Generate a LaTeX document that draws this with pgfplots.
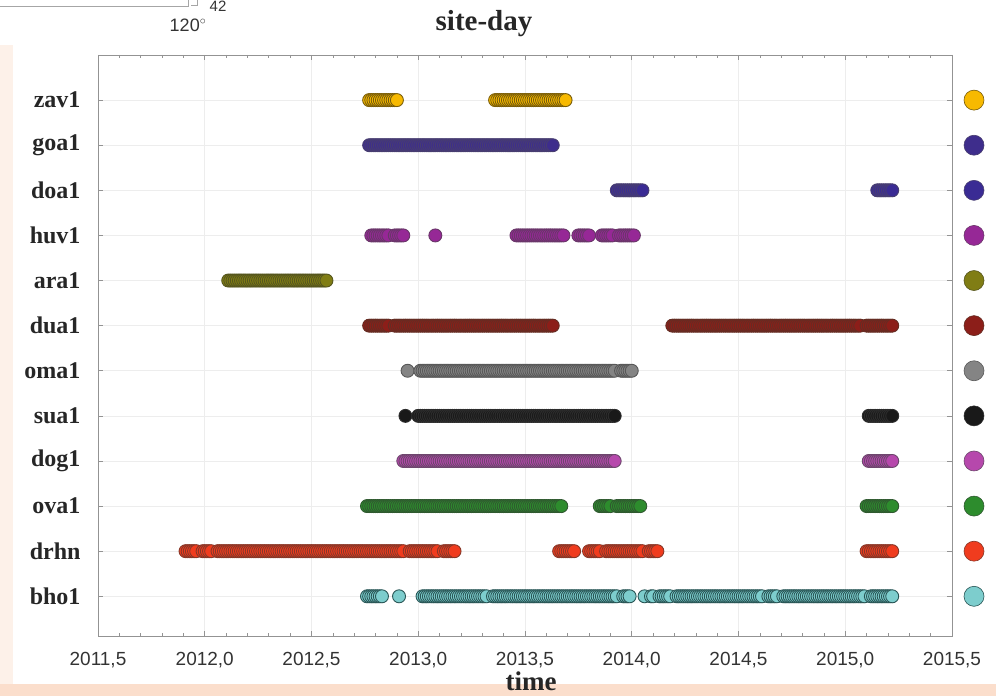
\documentclass[border=0pt]{standalone}
\usepackage{fontspec}
\setmainfont{Liberation Serif}
\newfontfamily\sansf{Liberation Sans}
\usepackage{pgfplots}
\pgfplotsset{compat=1.18}
\definecolor{zavF}{RGB}{247,185,0}\definecolor{zavE}{RGB}{120,92,10}
\definecolor{goaF}{RGB}{62,45,140}\definecolor{goaE}{RGB}{72,62,112}
\definecolor{doaF}{RGB}{58,43,148}\definecolor{doaE}{RGB}{72,62,112}
\definecolor{huvF}{RGB}{150,40,150}\definecolor{huvE}{RGB}{105,55,105}
\definecolor{araF}{RGB}{128,125,20}\definecolor{araE}{RGB}{85,85,30}
\definecolor{duaF}{RGB}{140,30,25}\definecolor{duaE}{RGB}{100,45,35}
\definecolor{omaF}{RGB}{132,132,132}\definecolor{omaE}{RGB}{88,88,88}
\definecolor{suaF}{RGB}{25,25,25}\definecolor{suaE}{RGB}{45,45,45}
\definecolor{dogF}{RGB}{182,72,172}\definecolor{dogE}{RGB}{108,70,108}
\definecolor{ovaF}{RGB}{45,140,45}\definecolor{ovaE}{RGB}{48,88,48}
\definecolor{drhF}{RGB}{240,60,30}\definecolor{drhE}{RGB}{135,55,40}
\definecolor{bhoF}{RGB}{125,205,205}\definecolor{bhoE}{RGB}{42,86,86}
\definecolor{peachA}{RGB}{253,241,233}
\definecolor{peachB}{RGB}{251,222,204}
\pgfplotsset{site/.style={only marks, mark=*, mark size=6.5pt, line width=0.9pt}}
\pgfplotsset{leg/.style={only marks, mark=*, mark size=10pt, line width=0.6pt}}
\begin{document}
\begin{tikzpicture}[x=1pt,y=1pt]
\useasboundingbox (0,0) rectangle (996,696);
\fill[peachA] (0,0) rectangle (13,651);
\fill[peachB] (0,0) rectangle (996,12);
% artefact of neighbouring figure
\draw[gray!70, line width=0.7pt] (0,690) -- (188,690) -- (188,696);
\draw[gray!70, line width=0.7pt] (191,691) -- (197,691) -- (197,696);
\node[font=\sansf\fontsize{15}{15}\selectfont, text=black!80, anchor=north, inner sep=0pt] at (218,695) {42};
\node[font=\sansf\fontsize{18}{18}\selectfont, text=black!80] at (188,671) {120$^{\circ}$};
\node[font=\fontsize{29}{29}\selectfont\bfseries, text=black!85] at (484,672) {site-day};
\begin{axis}[
 at={(98pt,60pt)}, anchor=south west, width=854pt, height=581pt, scale only axis,
 xmin=2011.5, xmax=2015.5, ymin=0.12, ymax=13,
 xtick={2011.5,2012,2012.5,2013,2013.5,2014,2014.5,2015,2015.5},
 xticklabels={{2011,5},{2012,0},{2012,5},{2013,0},{2013,5},{2014,0},{2014,5},{2015,0},{2015,5}},
 minor x tick num=4,
 ytick={1,2,3,4,5,6,7,8,9,10,11,12},
 yticklabels={bho1,drhn,ova1,dog1,sua1,oma1,dua1,ara1,huv1,doa1,goa1,zav1},
 tick align=inside, major tick length=5pt, minor tick length=3pt,
 grid=major, major grid style={color=gray!14, line width=0.6pt},
 axis line style={color=gray!85, line width=0.8pt},
 every tick/.style={color=gray!85, line width=0.6pt},
 xticklabel style={font=\sansf\fontsize{19}{19}\selectfont, text=black!80, inner sep=1pt, yshift=-15pt},
 yticklabel style={font=\fontsize{24}{24}\selectfont\bfseries, text=black!85, xshift=-14pt},
 clip=false,
]
\addplot[site, fill=zavF, draw=zavE] coordinates {
(2012.77,12)(2012.78,12)(2012.79,12)(2012.80,12)(2012.81,12)(2012.82,12)(2012.83,12)(2012.84,12)(2012.85,12)(2012.86,12)(2012.87,12)(2012.88,12)(2012.89,12)(2012.90,12)
(2013.36,12)(2013.37,12)(2013.38,12)(2013.39,12)(2013.40,12)(2013.41,12)(2013.42,12)(2013.43,12)(2013.44,12)(2013.45,12)(2013.46,12)(2013.47,12)(2013.48,12)(2013.49,12)(2013.50,12)(2013.51,12)(2013.52,12)(2013.53,12)(2013.54,12)(2013.55,12)(2013.56,12)(2013.57,12)(2013.58,12)(2013.59,12)(2013.60,12)(2013.61,12)(2013.62,12)(2013.63,12)(2013.64,12)(2013.65,12)(2013.66,12)(2013.67,12)(2013.68,12)(2013.69,12)
};
\addplot[site, fill=goaF, draw=goaE] coordinates {
(2012.77,11)(2012.78,11)(2012.79,11)(2012.80,11)(2012.81,11)(2012.82,11)(2012.83,11)(2012.84,11)(2012.85,11)(2012.86,11)(2012.87,11)(2012.88,11)(2012.89,11)(2012.90,11)(2012.91,11)(2012.92,11)(2012.93,11)(2012.94,11)(2012.95,11)(2012.96,11)(2012.97,11)(2012.98,11)(2012.99,11)
(2013.00,11)(2013.01,11)(2013.02,11)(2013.03,11)(2013.04,11)(2013.05,11)(2013.06,11)(2013.07,11)(2013.08,11)(2013.09,11)(2013.10,11)(2013.11,11)(2013.12,11)(2013.13,11)(2013.14,11)(2013.15,11)(2013.16,11)(2013.17,11)(2013.18,11)(2013.19,11)(2013.20,11)(2013.21,11)(2013.22,11)(2013.23,11)(2013.24,11)(2013.25,11)(2013.26,11)(2013.27,11)(2013.28,11)(2013.29,11)(2013.30,11)(2013.31,11)(2013.32,11)(2013.33,11)(2013.34,11)(2013.35,11)(2013.36,11)(2013.37,11)(2013.38,11)(2013.39,11)(2013.40,11)(2013.41,11)(2013.42,11)(2013.43,11)(2013.44,11)(2013.45,11)(2013.46,11)(2013.47,11)(2013.48,11)(2013.49,11)(2013.50,11)(2013.51,11)(2013.52,11)(2013.53,11)(2013.54,11)(2013.55,11)(2013.56,11)(2013.57,11)(2013.58,11)(2013.59,11)(2013.60,11)(2013.61,11)(2013.62,11)(2013.63,11)
};
\addplot[site, fill=doaF, draw=doaE] coordinates {
(2013.93,10)(2013.94,10)(2013.95,10)(2013.96,10)(2013.97,10)(2013.98,10)(2013.99,10)(2014.00,10)(2014.01,10)(2014.02,10)(2014.03,10)(2014.04,10)(2014.05,10)
(2015.15,10)(2015.16,10)(2015.17,10)(2015.18,10)(2015.19,10)(2015.20,10)(2015.21,10)(2015.22,10)
};
\addplot[site, fill=huvF, draw=huvE] coordinates {
(2012.78,9)(2012.79,9)(2012.80,9)(2012.81,9)(2012.82,9)(2012.83,9)(2012.84,9)(2012.85,9)(2012.86,9)
(2012.89,9)(2012.90,9)(2012.91,9)(2012.92,9)(2012.93,9)
(2013.08,9)
(2013.46,9)(2013.47,9)(2013.48,9)(2013.49,9)(2013.50,9)(2013.51,9)(2013.52,9)(2013.53,9)(2013.54,9)(2013.55,9)(2013.56,9)(2013.57,9)(2013.58,9)(2013.59,9)(2013.60,9)(2013.61,9)(2013.62,9)(2013.63,9)(2013.64,9)(2013.65,9)(2013.66,9)(2013.67,9)(2013.68,9)
(2013.75,9)(2013.76,9)(2013.77,9)(2013.78,9)(2013.79,9)(2013.80,9)
(2013.86,9)(2013.87,9)(2013.88,9)(2013.89,9)(2013.90,9)(2013.91,9)
(2013.94,9)(2013.95,9)(2013.96,9)(2013.97,9)(2013.98,9)(2013.99,9)(2014.00,9)(2014.01,9)
};
\addplot[site, fill=araF, draw=araE] coordinates {
(2012.11,8)(2012.12,8)(2012.13,8)(2012.14,8)(2012.15,8)(2012.16,8)(2012.17,8)(2012.18,8)(2012.19,8)(2012.20,8)(2012.21,8)(2012.22,8)(2012.23,8)(2012.24,8)(2012.25,8)(2012.26,8)(2012.27,8)(2012.28,8)(2012.29,8)(2012.30,8)(2012.31,8)(2012.32,8)(2012.33,8)(2012.34,8)(2012.35,8)(2012.36,8)(2012.37,8)(2012.38,8)(2012.39,8)(2012.40,8)(2012.41,8)(2012.42,8)(2012.43,8)(2012.44,8)(2012.45,8)(2012.46,8)(2012.47,8)(2012.48,8)(2012.49,8)(2012.50,8)(2012.51,8)(2012.52,8)(2012.53,8)(2012.54,8)(2012.55,8)(2012.56,8)(2012.57,8)
};
\addplot[site, fill=duaF, draw=duaE] coordinates {
(2012.77,7)(2012.78,7)(2012.79,7)(2012.80,7)(2012.81,7)(2012.82,7)(2012.83,7)(2012.84,7)(2012.85,7)(2012.86,7)
(2012.89,7)(2012.90,7)(2012.91,7)(2012.92,7)(2012.93,7)(2012.94,7)(2012.95,7)(2012.96,7)(2012.97,7)(2012.98,7)(2012.99,7)
(2013.00,7)(2013.01,7)(2013.02,7)(2013.03,7)(2013.04,7)(2013.05,7)(2013.06,7)(2013.07,7)(2013.08,7)(2013.09,7)(2013.10,7)(2013.11,7)(2013.12,7)(2013.13,7)(2013.14,7)(2013.15,7)(2013.16,7)(2013.17,7)(2013.18,7)(2013.19,7)(2013.20,7)(2013.21,7)(2013.22,7)(2013.23,7)(2013.24,7)(2013.25,7)(2013.26,7)(2013.27,7)(2013.28,7)(2013.29,7)(2013.30,7)(2013.31,7)(2013.32,7)(2013.33,7)(2013.34,7)(2013.35,7)(2013.36,7)(2013.37,7)(2013.38,7)(2013.39,7)(2013.40,7)(2013.41,7)(2013.42,7)(2013.43,7)(2013.44,7)(2013.45,7)(2013.46,7)(2013.47,7)(2013.48,7)(2013.49,7)(2013.50,7)(2013.51,7)(2013.52,7)(2013.53,7)(2013.54,7)(2013.55,7)(2013.56,7)(2013.57,7)(2013.58,7)(2013.59,7)(2013.60,7)(2013.61,7)(2013.62,7)(2013.63,7)
(2014.19,7)(2014.20,7)(2014.21,7)(2014.22,7)(2014.23,7)(2014.24,7)(2014.25,7)(2014.26,7)(2014.27,7)(2014.28,7)(2014.29,7)(2014.30,7)(2014.31,7)(2014.32,7)(2014.33,7)(2014.34,7)(2014.35,7)(2014.36,7)(2014.37,7)(2014.38,7)(2014.39,7)(2014.40,7)(2014.41,7)(2014.42,7)(2014.43,7)(2014.44,7)(2014.45,7)(2014.46,7)(2014.47,7)(2014.48,7)(2014.49,7)(2014.50,7)(2014.51,7)(2014.52,7)(2014.53,7)(2014.54,7)(2014.55,7)(2014.56,7)(2014.57,7)(2014.58,7)(2014.59,7)(2014.60,7)(2014.61,7)(2014.62,7)(2014.63,7)(2014.64,7)(2014.65,7)(2014.66,7)(2014.67,7)(2014.68,7)(2014.69,7)(2014.70,7)(2014.71,7)(2014.72,7)(2014.73,7)(2014.74,7)(2014.75,7)(2014.76,7)(2014.77,7)(2014.78,7)(2014.79,7)(2014.80,7)(2014.81,7)(2014.82,7)(2014.83,7)(2014.84,7)(2014.85,7)(2014.86,7)(2014.87,7)(2014.88,7)(2014.89,7)(2014.90,7)(2014.91,7)(2014.92,7)(2014.93,7)(2014.94,7)(2014.95,7)(2014.96,7)(2014.97,7)(2014.98,7)(2014.99,7)(2015.00,7)(2015.01,7)(2015.02,7)(2015.03,7)(2015.04,7)(2015.05,7)(2015.06,7)(2015.07,7)
(2015.10,7)(2015.11,7)(2015.12,7)(2015.13,7)(2015.14,7)(2015.15,7)(2015.16,7)(2015.17,7)(2015.18,7)(2015.19,7)(2015.20,7)(2015.21,7)(2015.22,7)
};
\addplot[site, fill=omaF, draw=omaE] coordinates {
(2012.95,6)
(2013.01,6)(2013.02,6)(2013.03,6)(2013.04,6)(2013.05,6)(2013.06,6)(2013.07,6)(2013.08,6)(2013.09,6)(2013.10,6)(2013.11,6)(2013.12,6)(2013.13,6)(2013.14,6)(2013.15,6)(2013.16,6)(2013.17,6)(2013.18,6)(2013.19,6)(2013.20,6)(2013.21,6)(2013.22,6)(2013.23,6)(2013.24,6)(2013.25,6)(2013.26,6)(2013.27,6)(2013.28,6)(2013.29,6)(2013.30,6)(2013.31,6)(2013.32,6)(2013.33,6)(2013.34,6)(2013.35,6)(2013.36,6)(2013.37,6)(2013.38,6)(2013.39,6)(2013.40,6)(2013.41,6)(2013.42,6)(2013.43,6)(2013.44,6)(2013.45,6)(2013.46,6)(2013.47,6)(2013.48,6)(2013.49,6)(2013.50,6)(2013.51,6)(2013.52,6)(2013.53,6)(2013.54,6)(2013.55,6)(2013.56,6)(2013.57,6)(2013.58,6)(2013.59,6)(2013.60,6)(2013.61,6)(2013.62,6)(2013.63,6)(2013.64,6)(2013.65,6)(2013.66,6)(2013.67,6)(2013.68,6)(2013.69,6)(2013.70,6)(2013.71,6)(2013.72,6)(2013.73,6)(2013.74,6)(2013.75,6)(2013.76,6)(2013.77,6)(2013.78,6)(2013.79,6)(2013.80,6)(2013.81,6)(2013.82,6)(2013.83,6)(2013.84,6)(2013.85,6)(2013.86,6)(2013.87,6)(2013.88,6)(2013.89,6)(2013.90,6)(2013.91,6)(2013.92,6)
(2013.95,6)(2013.96,6)(2013.97,6)(2013.98,6)(2013.99,6)(2014.00,6)
};
\addplot[site, fill=suaF, draw=suaE] coordinates {
(2012.94,5)
(2013.00,5)(2013.01,5)(2013.02,5)(2013.03,5)(2013.04,5)(2013.05,5)(2013.06,5)(2013.07,5)(2013.08,5)(2013.09,5)(2013.10,5)(2013.11,5)(2013.12,5)(2013.13,5)(2013.14,5)(2013.15,5)(2013.16,5)(2013.17,5)(2013.18,5)(2013.19,5)(2013.20,5)(2013.21,5)(2013.22,5)(2013.23,5)(2013.24,5)(2013.25,5)(2013.26,5)(2013.27,5)(2013.28,5)(2013.29,5)(2013.30,5)(2013.31,5)(2013.32,5)(2013.33,5)(2013.34,5)(2013.35,5)(2013.36,5)(2013.37,5)(2013.38,5)(2013.39,5)(2013.40,5)(2013.41,5)(2013.42,5)(2013.43,5)(2013.44,5)(2013.45,5)(2013.46,5)(2013.47,5)(2013.48,5)(2013.49,5)(2013.50,5)(2013.51,5)(2013.52,5)(2013.53,5)(2013.54,5)(2013.55,5)(2013.56,5)(2013.57,5)(2013.58,5)(2013.59,5)(2013.60,5)(2013.61,5)(2013.62,5)(2013.63,5)(2013.64,5)(2013.65,5)(2013.66,5)(2013.67,5)(2013.68,5)(2013.69,5)(2013.70,5)(2013.71,5)(2013.72,5)(2013.73,5)(2013.74,5)(2013.75,5)(2013.76,5)(2013.77,5)(2013.78,5)(2013.79,5)(2013.80,5)(2013.81,5)(2013.82,5)(2013.83,5)(2013.84,5)(2013.85,5)(2013.86,5)(2013.87,5)(2013.88,5)(2013.89,5)(2013.90,5)(2013.91,5)(2013.92,5)
(2015.11,5)(2015.12,5)(2015.13,5)(2015.14,5)(2015.15,5)(2015.16,5)(2015.17,5)(2015.18,5)(2015.19,5)(2015.20,5)(2015.21,5)(2015.22,5)
};
\addplot[site, fill=dogF, draw=dogE] coordinates {
(2012.93,4)(2012.94,4)(2012.95,4)(2012.96,4)(2012.97,4)(2012.98,4)(2012.99,4)
(2013.00,4)(2013.01,4)(2013.02,4)(2013.03,4)(2013.04,4)(2013.05,4)(2013.06,4)(2013.07,4)(2013.08,4)(2013.09,4)(2013.10,4)(2013.11,4)(2013.12,4)(2013.13,4)(2013.14,4)(2013.15,4)(2013.16,4)(2013.17,4)(2013.18,4)(2013.19,4)(2013.20,4)(2013.21,4)(2013.22,4)(2013.23,4)(2013.24,4)(2013.25,4)(2013.26,4)(2013.27,4)(2013.28,4)(2013.29,4)(2013.30,4)(2013.31,4)(2013.32,4)(2013.33,4)(2013.34,4)(2013.35,4)(2013.36,4)(2013.37,4)(2013.38,4)(2013.39,4)(2013.40,4)(2013.41,4)(2013.42,4)(2013.43,4)(2013.44,4)(2013.45,4)(2013.46,4)(2013.47,4)(2013.48,4)(2013.49,4)(2013.50,4)(2013.51,4)(2013.52,4)(2013.53,4)(2013.54,4)(2013.55,4)(2013.56,4)(2013.57,4)(2013.58,4)(2013.59,4)(2013.60,4)(2013.61,4)(2013.62,4)(2013.63,4)(2013.64,4)(2013.65,4)(2013.66,4)(2013.67,4)(2013.68,4)(2013.69,4)(2013.70,4)(2013.71,4)(2013.72,4)(2013.73,4)(2013.74,4)(2013.75,4)(2013.76,4)(2013.77,4)(2013.78,4)(2013.79,4)(2013.80,4)(2013.81,4)(2013.82,4)(2013.83,4)(2013.84,4)(2013.85,4)(2013.86,4)(2013.87,4)(2013.88,4)(2013.89,4)(2013.90,4)(2013.91,4)(2013.92,4)
(2015.11,4)(2015.12,4)(2015.13,4)(2015.14,4)(2015.15,4)(2015.16,4)(2015.17,4)(2015.18,4)(2015.19,4)(2015.20,4)(2015.21,4)(2015.22,4)
};
\addplot[site, fill=ovaF, draw=ovaE] coordinates {
(2012.76,3)(2012.77,3)(2012.78,3)(2012.79,3)(2012.80,3)(2012.81,3)(2012.82,3)(2012.83,3)(2012.84,3)(2012.85,3)(2012.86,3)(2012.87,3)(2012.88,3)(2012.89,3)(2012.90,3)(2012.91,3)(2012.92,3)(2012.93,3)(2012.94,3)(2012.95,3)(2012.96,3)(2012.97,3)(2012.98,3)(2012.99,3)
(2013.00,3)(2013.01,3)(2013.02,3)(2013.03,3)(2013.04,3)(2013.05,3)(2013.06,3)(2013.07,3)(2013.08,3)(2013.09,3)(2013.10,3)(2013.11,3)(2013.12,3)(2013.13,3)(2013.14,3)(2013.15,3)(2013.16,3)(2013.17,3)(2013.18,3)(2013.19,3)(2013.20,3)(2013.21,3)(2013.22,3)(2013.23,3)(2013.24,3)(2013.25,3)(2013.26,3)(2013.27,3)(2013.28,3)(2013.29,3)(2013.30,3)(2013.31,3)(2013.32,3)(2013.33,3)(2013.34,3)(2013.35,3)(2013.36,3)(2013.37,3)(2013.38,3)(2013.39,3)(2013.40,3)(2013.41,3)(2013.42,3)(2013.43,3)(2013.44,3)(2013.45,3)(2013.46,3)(2013.47,3)(2013.48,3)(2013.49,3)(2013.50,3)(2013.51,3)(2013.52,3)(2013.53,3)(2013.54,3)(2013.55,3)(2013.56,3)(2013.57,3)(2013.58,3)(2013.59,3)(2013.60,3)(2013.61,3)(2013.62,3)(2013.63,3)(2013.64,3)(2013.65,3)(2013.66,3)(2013.67,3)
(2013.85,3)(2013.86,3)(2013.87,3)(2013.88,3)(2013.89,3)(2013.90,3)
(2013.93,3)(2013.94,3)(2013.95,3)(2013.96,3)(2013.97,3)(2013.98,3)(2013.99,3)(2014.00,3)(2014.01,3)(2014.02,3)(2014.03,3)(2014.04,3)
(2015.10,3)(2015.11,3)(2015.12,3)(2015.13,3)(2015.14,3)(2015.15,3)(2015.16,3)(2015.17,3)(2015.18,3)(2015.19,3)(2015.20,3)(2015.21,3)(2015.22,3)
};
\addplot[site, fill=drhF, draw=drhE] coordinates {
(2011.91,2)(2011.92,2)(2011.93,2)(2011.94,2)(2011.95,2)(2011.96,2)
(2011.99,2)(2012.00,2)(2012.01,2)(2012.02,2)(2012.03,2)
(2012.06,2)(2012.07,2)(2012.08,2)(2012.09,2)(2012.10,2)(2012.11,2)(2012.12,2)(2012.13,2)(2012.14,2)(2012.15,2)(2012.16,2)(2012.17,2)(2012.18,2)(2012.19,2)(2012.20,2)(2012.21,2)(2012.22,2)(2012.23,2)(2012.24,2)(2012.25,2)(2012.26,2)(2012.27,2)(2012.28,2)(2012.29,2)(2012.30,2)(2012.31,2)(2012.32,2)(2012.33,2)(2012.34,2)(2012.35,2)(2012.36,2)(2012.37,2)(2012.38,2)(2012.39,2)(2012.40,2)(2012.41,2)(2012.42,2)(2012.43,2)(2012.44,2)(2012.45,2)(2012.46,2)(2012.47,2)(2012.48,2)(2012.49,2)(2012.50,2)(2012.51,2)(2012.52,2)(2012.53,2)(2012.54,2)(2012.55,2)(2012.56,2)(2012.57,2)(2012.58,2)(2012.59,2)(2012.60,2)(2012.61,2)(2012.62,2)(2012.63,2)(2012.64,2)(2012.65,2)(2012.66,2)(2012.67,2)(2012.68,2)(2012.69,2)(2012.70,2)(2012.71,2)(2012.72,2)(2012.73,2)(2012.74,2)(2012.75,2)(2012.76,2)(2012.77,2)(2012.78,2)(2012.79,2)(2012.80,2)(2012.81,2)(2012.82,2)(2012.83,2)(2012.84,2)(2012.85,2)(2012.86,2)(2012.87,2)(2012.88,2)(2012.89,2)(2012.90,2)(2012.91,2)(2012.92,2)(2012.93,2)
(2012.96,2)(2012.97,2)(2012.98,2)(2012.99,2)(2013.00,2)(2013.01,2)(2013.02,2)(2013.03,2)(2013.04,2)(2013.05,2)(2013.06,2)(2013.07,2)(2013.08,2)(2013.09,2)
(2013.12,2)(2013.13,2)(2013.14,2)(2013.15,2)(2013.16,2)(2013.17,2)
(2013.66,2)(2013.67,2)(2013.68,2)(2013.69,2)(2013.70,2)(2013.71,2)(2013.72,2)(2013.73,2)
(2013.80,2)(2013.81,2)(2013.82,2)(2013.83,2)(2013.84,2)(2013.85,2)
(2013.88,2)(2013.89,2)(2013.90,2)(2013.91,2)(2013.92,2)(2013.93,2)(2013.94,2)(2013.95,2)(2013.96,2)(2013.97,2)(2013.98,2)(2013.99,2)(2014.00,2)(2014.01,2)(2014.02,2)(2014.03,2)(2014.04,2)(2014.05,2)
(2014.08,2)(2014.09,2)(2014.10,2)(2014.11,2)(2014.12,2)
(2015.10,2)(2015.11,2)(2015.12,2)(2015.13,2)(2015.14,2)(2015.15,2)(2015.16,2)(2015.17,2)(2015.18,2)(2015.19,2)(2015.20,2)(2015.21,2)(2015.22,2)
};
\addplot[site, fill=bhoF, draw=bhoE] coordinates {
(2012.76,1)(2012.77,1)(2012.78,1)(2012.79,1)(2012.80,1)(2012.81,1)(2012.82,1)(2012.83,1)
(2012.91,1)
(2013.02,1)(2013.03,1)(2013.04,1)(2013.05,1)(2013.06,1)(2013.07,1)(2013.08,1)(2013.09,1)(2013.10,1)(2013.11,1)(2013.12,1)(2013.13,1)(2013.14,1)(2013.15,1)(2013.16,1)(2013.17,1)(2013.18,1)(2013.19,1)(2013.20,1)(2013.21,1)(2013.22,1)(2013.23,1)(2013.24,1)(2013.25,1)(2013.26,1)(2013.27,1)(2013.28,1)(2013.29,1)(2013.30,1)(2013.31,1)(2013.32,1)
(2013.35,1)(2013.36,1)(2013.37,1)(2013.38,1)(2013.39,1)(2013.40,1)(2013.41,1)(2013.42,1)(2013.43,1)(2013.44,1)(2013.45,1)(2013.46,1)(2013.47,1)(2013.48,1)(2013.49,1)(2013.50,1)(2013.51,1)(2013.52,1)(2013.53,1)(2013.54,1)(2013.55,1)(2013.56,1)(2013.57,1)(2013.58,1)(2013.59,1)(2013.60,1)(2013.61,1)(2013.62,1)(2013.63,1)(2013.64,1)(2013.65,1)(2013.66,1)(2013.67,1)(2013.68,1)(2013.69,1)(2013.70,1)(2013.71,1)(2013.72,1)(2013.73,1)(2013.74,1)(2013.75,1)(2013.76,1)(2013.77,1)(2013.78,1)(2013.79,1)(2013.80,1)(2013.81,1)(2013.82,1)(2013.83,1)(2013.84,1)(2013.85,1)(2013.86,1)(2013.87,1)(2013.88,1)(2013.89,1)(2013.90,1)(2013.91,1)(2013.92,1)(2013.93,1)
(2013.96,1)(2013.97,1)(2013.98,1)(2013.99,1)
(2014.06,1)
(2014.09,1)(2014.10,1)
(2014.13,1)(2014.14,1)(2014.15,1)(2014.16,1)(2014.17,1)(2014.18,1)
(2014.21,1)(2014.22,1)(2014.23,1)(2014.24,1)(2014.25,1)(2014.26,1)(2014.27,1)(2014.28,1)(2014.29,1)(2014.30,1)(2014.31,1)(2014.32,1)(2014.33,1)(2014.34,1)(2014.35,1)(2014.36,1)(2014.37,1)(2014.38,1)(2014.39,1)(2014.40,1)(2014.41,1)(2014.42,1)(2014.43,1)(2014.44,1)(2014.45,1)(2014.46,1)(2014.47,1)(2014.48,1)(2014.49,1)(2014.50,1)(2014.51,1)(2014.52,1)(2014.53,1)(2014.54,1)(2014.55,1)(2014.56,1)(2014.57,1)(2014.58,1)(2014.59,1)(2014.60,1)(2014.61,1)
(2014.64,1)(2014.65,1)(2014.66,1)(2014.67,1)(2014.68,1)
(2014.71,1)(2014.72,1)(2014.73,1)(2014.74,1)(2014.75,1)(2014.76,1)(2014.77,1)(2014.78,1)(2014.79,1)(2014.80,1)(2014.81,1)(2014.82,1)(2014.83,1)(2014.84,1)(2014.85,1)(2014.86,1)(2014.87,1)(2014.88,1)(2014.89,1)(2014.90,1)(2014.91,1)(2014.92,1)(2014.93,1)(2014.94,1)(2014.95,1)(2014.96,1)(2014.97,1)(2014.98,1)(2014.99,1)(2015.00,1)(2015.01,1)(2015.02,1)(2015.03,1)(2015.04,1)(2015.05,1)(2015.06,1)(2015.07,1)(2015.08,1)(2015.09,1)
(2015.12,1)(2015.13,1)(2015.14,1)(2015.15,1)(2015.16,1)(2015.17,1)(2015.18,1)(2015.19,1)(2015.20,1)(2015.21,1)(2015.22,1)
};
\end{axis}
\begin{axis}[
 at={(952pt,60pt)}, anchor=south west, width=44pt, height=581pt, scale only axis,
 xmin=0, xmax=1, ymin=0.12, ymax=13, hide axis, clip=false,
]
\addplot[leg, fill=zavF, draw=zavE] coordinates {(0.5,12)};
\addplot[leg, fill=goaF, draw=goaE] coordinates {(0.5,11)};
\addplot[leg, fill=doaF, draw=doaE] coordinates {(0.5,10)};
\addplot[leg, fill=huvF, draw=huvE] coordinates {(0.5,9)};
\addplot[leg, fill=araF, draw=araE] coordinates {(0.5,8)};
\addplot[leg, fill=duaF, draw=duaE] coordinates {(0.5,7)};
\addplot[leg, fill=omaF, draw=omaE] coordinates {(0.5,6)};
\addplot[leg, fill=suaF, draw=suaE] coordinates {(0.5,5)};
\addplot[leg, fill=dogF, draw=dogE] coordinates {(0.5,4)};
\addplot[leg, fill=ovaF, draw=ovaE] coordinates {(0.5,3)};
\addplot[leg, fill=drhF, draw=drhE] coordinates {(0.5,2)};
\addplot[leg, fill=bhoF, draw=bhoE] coordinates {(0.5,1)};
\end{axis}
\node[font=\fontsize{27}{27}\selectfont\bfseries, text=black!85, anchor=base, inner sep=0pt] at (531,5) {time};
\end{tikzpicture}
\end{document}
